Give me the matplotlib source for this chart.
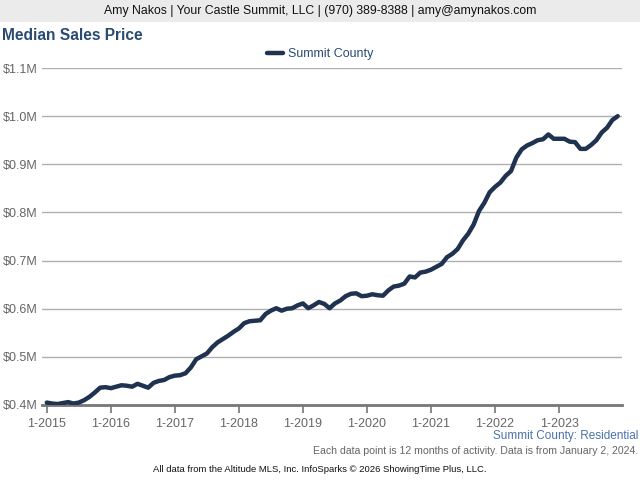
import matplotlib
matplotlib.use("Agg")
import matplotlib.pyplot as plt
from matplotlib.patches import Rectangle

plt.rcParams['font.family'] = ['Liberation Sans', 'DejaVu Sans']

# monthly median sales price (12-month rolling), $M, Jan 2015 - Dec 2023
price_2015 = [0.405, 0.403, 0.402, 0.404, 0.406, 0.403, 0.405, 0.410, 0.417, 0.426, 0.436, 0.437]
price_2016 = [0.435, 0.438, 0.441, 0.440, 0.438, 0.444, 0.440, 0.436, 0.446, 0.450, 0.452, 0.458]
price_2017 = [0.461, 0.462, 0.466, 0.478, 0.495, 0.501, 0.507, 0.520, 0.530, 0.537, 0.544, 0.552]
price_2018 = [0.559, 0.570, 0.574, 0.575, 0.576, 0.589, 0.596, 0.601, 0.596, 0.600, 0.601, 0.607]
price_2019 = [0.611, 0.601, 0.607, 0.614, 0.610, 0.601, 0.611, 0.617, 0.626, 0.631, 0.632, 0.626]
price_2020 = [0.627, 0.630, 0.628, 0.627, 0.638, 0.646, 0.648, 0.652, 0.667, 0.665, 0.675, 0.677]
price_2021 = [0.681, 0.687, 0.693, 0.707, 0.714, 0.724, 0.742, 0.756, 0.775, 0.803, 0.820, 0.842]
price_2022 = [0.853, 0.862, 0.876, 0.886, 0.914, 0.931, 0.939, 0.944, 0.950, 0.952, 0.962, 0.953]
price_2023 = [0.953, 0.953, 0.947, 0.946, 0.932, 0.932, 0.940, 0.950, 0.966, 0.976, 0.992, 1.000]

prices = (price_2015 + price_2016 + price_2017 + price_2018 + price_2019
          + price_2020 + price_2021 + price_2022 + price_2023)
months = list(range(len(prices)))

year_labels = ["1-2015", "1-2016", "1-2017", "1-2018", "1-2019",
               "1-2020", "1-2021", "1-2022", "1-2023"]
year_ticks = [12 * k for k in range(len(year_labels))]

y_ticks = [0.4, 0.5, 0.6, 0.7, 0.8, 0.9, 1.0, 1.1]
y_labels = ["$0.4M", "$0.5M", "$0.6M", "$0.7M", "$0.8M", "$0.9M", "$1.0M", "$1.1M"]

line_color = "#1f3350"
title_color = "#2a4a72"

fig = plt.figure(figsize=(6.4, 4.8), dpi=100)
fig.patch.set_facecolor("white")

# grey header bar
fig.add_artist(Rectangle((0, 1 - 22 / 480), 1, 22 / 480, transform=fig.transFigure,
                         facecolor="#ebebeb", edgecolor="none"))
fig.text(0.5, 1 - 11 / 480, "Amy Nakos | Your Castle Summit, LLC | (970) 389-8388 | amy@amynakos.com",
         ha="center", va="center", fontsize=8.8, color="#111111")

fig.text(2 / 640, 1 - 35 / 480, "Median Sales Price", ha="left", va="center",
         fontsize=11.2, fontweight="bold", color=title_color)

ax = fig.add_axes([42 / 640, 75 / 480, (622 - 42) / 640, (405 - 68) / 480])
ax.plot(months, prices, color=line_color, linewidth=3.2, solid_capstyle="round",
        solid_joinstyle="round", label="Summit County", zorder=3)

ax.set_xlim(-0.9, 107.8)
ax.set_ylim(0.4, 1.1)
ax.set_yticks(y_ticks)
ax.set_yticklabels(y_labels)
ax.set_xticks(year_ticks)
ax.set_xticklabels(year_labels)

ax.grid(axis="y", color="#b0b0b0", linewidth=1)
ax.set_axisbelow(True)
for side in ["top", "right", "left"]:
    ax.spines[side].set_visible(False)
ax.spines["bottom"].set_color("#777777")
ax.spines["bottom"].set_linewidth(2)
ax.spines["bottom"].set_zorder(2)

ax.tick_params(axis="y", length=0, labelsize=9, labelcolor="#666666", pad=3)
ax.tick_params(axis="x", length=6, width=1.2, color="#777777", labelsize=9,
               labelcolor="#666666", pad=3.5)

leg = fig.legend(loc="center", bbox_to_anchor=(0.5, 1 - 54 / 480), frameon=False,
                 fontsize=9, handlelength=1.3, handletextpad=0.4)
for t in leg.get_texts():
    t.set_color(title_color)

fig.text(638 / 640, 1 - 436 / 480, "Summit County: Residential", ha="right", va="center",
         fontsize=8.5, color="#4a72a8")
fig.text(638 / 640, 1 - 451 / 480,
         "Each data point is 12 months of activity. Data is from January 2, 2024.",
         ha="right", va="center", fontsize=7.6, color="#666666")
fig.text(0.5, 1 - 469 / 480,
         "All data from the Altitude MLS, Inc. InfoSparks \u00a9 2026 ShowingTime Plus, LLC.",
         ha="center", va="center", fontsize=6.8, color="#111111")

fig.savefig("out.png", dpi=100)
